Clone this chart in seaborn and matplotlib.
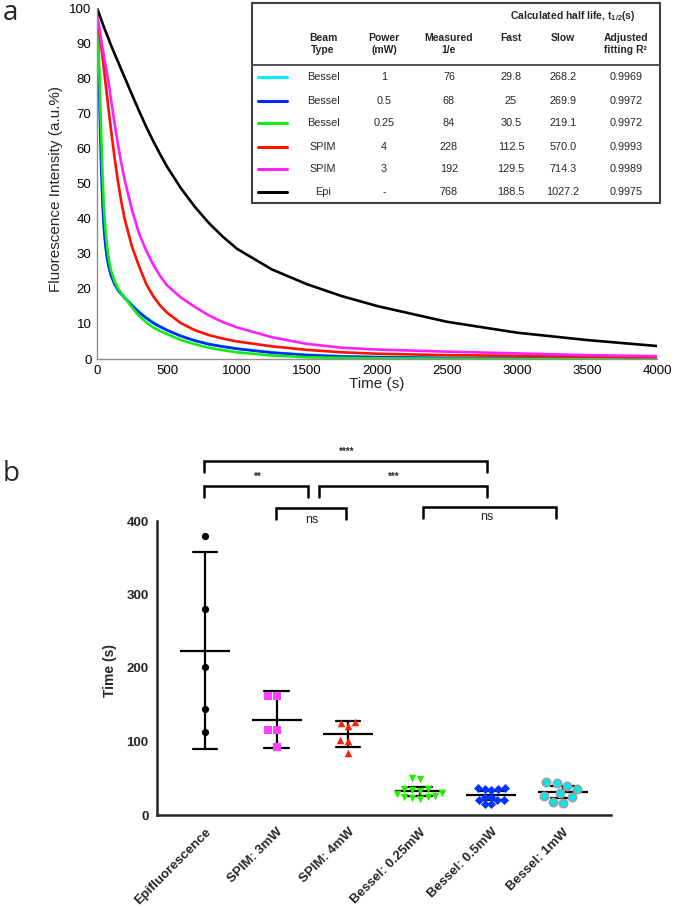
import numpy as np
import pandas as pd
import matplotlib
matplotlib.use("Agg")
import matplotlib.pyplot as plt
import seaborn as sns
from matplotlib.lines import Line2D
from matplotlib.patches import Rectangle

sns.set_style("white")
plt.rcParams["font.family"] = ["Liberation Sans", "DejaVu Sans"]
plt.rcParams["mathtext.fontset"] = "custom"
plt.rcParams["mathtext.rm"] = "Liberation Sans:bold"
plt.rcParams["mathtext.it"] = "Liberation Sans:bold"
plt.rcParams["mathtext.bf"] = "Liberation Sans:bold"

# ---- panel a: photobleaching curves ----
time_s = [0, 10, 20, 30, 40, 50, 60, 70, 80, 90, 100, 125, 150, 175, 200, 250, 300, 350,
          400, 450, 500, 600, 700, 800, 900, 1000, 1250, 1500, 1750, 2000, 2500, 3000,
          3500, 4000]
bessel_1mw = [98.5, 87, 71, 56, 45, 37.5, 33, 29.8, 27.4, 25.6, 24.1, 21.6, 19.9, 18.6,
              17.5, 15.4, 13.5, 11.9, 10.5, 9.3, 8.3, 6.6, 5.3, 4.3, 3.6, 3.0, 1.9, 1.2,
              0.8, 0.6, 0.3, 0.2, 0.1, 0.1]
bessel_05mw = [98, 86, 70, 55, 44, 37, 32.5, 29.3, 27, 25.2, 23.8, 21.3, 19.6, 18.4,
               17.3, 15.2, 13.3, 11.7, 10.3, 9.2, 8.2, 6.5, 5.2, 4.2, 3.5, 2.9, 1.8, 1.1,
               0.7, 0.5, 0.3, 0.2, 0.1, 0.1]
bessel_025mw = [98, 90, 78, 64, 52, 43, 37, 32.8, 29.6, 27.2, 25.3, 22.2, 20.1, 18.6,
                17.4, 14.7, 12.3, 10.5, 9.0, 8.0, 7.1, 5.4, 4.2, 3.2, 2.5, 1.9, 1.0, 0.5,
                0.3, 0.2, 0.1, 0.05, 0.02, 0.0]
spim_4mw = [98, 95, 92, 89, 85.8, 82.5, 79, 75.5, 72, 68.6, 65.3, 57.5, 50.5, 44.5,
            39.5, 32, 26.5, 21.5, 18, 15.3, 13.2, 10.2, 8.2, 6.8, 5.8, 5.0, 3.6, 2.6,
            1.9, 1.5, 1.1, 0.9, 0.7, 0.5]
spim_3mw = [98, 95.8, 93.5, 91, 88.5, 86, 84, 81.8, 79.5, 76.8, 74.0, 67.3, 61.0, 55.5,
            50.6, 42.5, 35.8, 31.0, 27.0, 23.7, 21.0, 17.5, 14.8, 12.4, 10.5, 9.0, 6.2,
            4.3, 3.2, 2.7, 2.1, 1.6, 1.1, 0.8]
epi = [100, 98.9, 97.8, 96.7, 95.6, 94.5, 93.5, 92.5, 91.5, 90.4, 89.4, 87.0, 84.7, 82.3,
       80.0, 75.3, 70.7, 66.3, 62.2, 58.4, 54.8, 48.6, 43.3, 38.7, 34.8, 31.4, 25.5, 21.3,
       17.9, 15.1, 10.6, 7.5, 5.4, 3.7]

curve_names = ["Bessel 1", "Bessel 0.5", "Bessel 0.25", "SPIM 4", "SPIM 3", "Epi"]
curve_values = [bessel_1mw, bessel_05mw, bessel_025mw, spim_4mw, spim_3mw, epi]
curve_colors = ["#00F0FF", "#0028FF", "#10EE10", "#FF1000", "#FF20FF", "#000000"]

# table inset
beam_type = ["Bessel", "Bessel", "Bessel", "SPIM", "SPIM", "Epi"]
power_mw = ["1", "0.5", "0.25", "4", "3", "-"]
measured_1e = ["76", "68", "84", "228", "192", "768"]
fast_half = ["29.8", "25", "30.5", "112.5", "129.5", "188.5"]
slow_half = ["268.2", "269.9", "219.1", "570.0", "714.3", "1027.2"]
adj_r2 = ["0.9969", "0.9972", "0.9972", "0.9993", "0.9989", "0.9975"]

# ---- panel b: times per condition ----
groups = ["Epifluorescence", "SPIM: 3mW", "SPIM: 4mW",
          "Bessel: 0.25mW", "Bessel: 0.5mW", "Bessel: 1mW"]
epi_times = [380, 280, 201, 144, 113]
spim3_times = [162, 162, 116, 116, 92]
spim4_times = [127, 121, 125, 102, 101, 85]
bessel025_times = [51, 49, 36, 35, 34, 33, 30, 28, 26, 25, 24, 23, 22]
bessel05_times = [37, 36, 34, 36, 37, 25, 25, 20, 20, 15, 15, 20]
bessel1_times = [45, 40, 36, 44, 30, 24, 17, 18, 26]
group_times = [epi_times, spim3_times, spim4_times, bessel025_times, bessel05_times, bessel1_times]

group_markers = ["o", "s", "^", "v", "D", "o"]
group_colors = ["#000000", "#FF40FF", "#FF2000", "#22EE00", "#0033FF", "#00E8F0"]
group_sizes = [5.2, 5.8, 5.4, 5.4, 4.6, 6.0]

# significance brackets: (x1, x2, top, leg end, label, label x, label y, fontsize, weight)
brackets = [
    (-0.007, 3.94, 481.7, 466.3, "****", 1.975, 494, 7, "bold"),
    (-0.007, 1.441, 447.3, 432.4, "**", 0.736, 460, 7, "bold"),
    (1.591, 3.94, 447.3, 432.4, "***", 2.63, 460, 7, "bold"),
    (0.992, 1.965, 417.8, 402.4, "ns", 1.489, 402, 9, "normal"),
    (3.04, 4.90, 419.2, 404.2, "ns", 3.93, 405, 9, "normal"),
]

T975 = {4: 2.776, 5: 2.571, 6: 2.447, 7: 2.365, 8: 2.306, 9: 2.262,
        10: 2.228, 11: 2.201, 12: 2.179, 13: 2.160}


def ci95(v):
    v = np.asarray(v, float)
    m = v.mean()
    h = T975[len(v) - 1] * v.std(ddof=1) / np.sqrt(len(v))
    return m - h, m + h


W, H = 675, 908


def fx(px):
    return px / W


def fy(py):
    return 1 - py / H


fig = plt.figure(figsize=(W / 100, H / 100), dpi=100)
ax_a = fig.add_axes([fx(97), fy(359), (657 - 97) / W, (359 - 8) / H])
ax_b = fig.add_axes([fx(157), fy(815), (611 - 157) / W, (815 - 521) / H])

# ---------------- panel a ----------------
df_a = pd.DataFrame({
    "time": np.tile(time_s, len(curve_names)),
    "intensity": np.concatenate(curve_values),
    "beam": np.repeat(curve_names, len(time_s)),
})
sns.lineplot(data=df_a, x="time", y="intensity", hue="beam", hue_order=curve_names,
             palette=dict(zip(curve_names, curve_colors)), linewidth=1.9,
             errorbar=None, legend=False, ax=ax_a)
ax_a.set_xlim(0, 4000)
ax_a.set_ylim(0, 100)
ax_a.set_xticks(range(0, 4001, 500))
ax_a.set_yticks(range(0, 101, 10))
sns.despine(ax=ax_a)
for s in ["left", "bottom"]:
    ax_a.spines[s].set_color("#909090")
    ax_a.spines[s].set_linewidth(1.0)
ax_a.tick_params(axis="both", direction="in", length=3, color="#909090",
                 labelsize=9.5, labelcolor="black")
ax_a.tick_params(axis="x", pad=4)
ax_a.tick_params(axis="y", pad=4)
ax_a.set_xlabel("Time (s)", fontsize=11)
ax_a.set_ylabel("Fluorescence Intensity (a.u.%)", fontsize=11)
ax_a.xaxis.set_label_coords(0.5, -0.05)
ax_a.yaxis.set_label_coords(-0.06, 0.484)

# table inset
fig.add_artist(Rectangle((fx(252), fy(203)), (660 - 252) / W, (203 - 3) / H,
                         transform=fig.transFigure, facecolor="white",
                         edgecolor="#404040", linewidth=1.5, zorder=5))
fig.add_artist(Line2D([fx(252), fx(660)], [fy(65), fy(65)], color="#505050",
                      linewidth=1.4, zorder=6))
hdr = dict(ha="center", va="center", fontsize=7.5, fontweight="bold",
           linespacing=1.15, zorder=7)
fig.text(fx(573), fy(16), r"Calculated half life, t$_{1/2}$(s)", **hdr)
fig.text(fx(323), fy(44), "Beam\nType", **hdr)
fig.text(fx(384), fy(44), "Power\n(mW)", **hdr)
fig.text(fx(449), fy(44), "Measured\n1/e", **hdr)
fig.text(fx(511), fy(38), "Fast", **hdr)
fig.text(fx(563), fy(38), "Slow", **hdr)
fig.text(fx(626), fy(44), "Adjusted\nfitting R\u00b2", **hdr)

row_y = [77, 101, 123, 147, 169, 192]
cell = dict(ha="center", va="center", fontsize=7.8, zorder=7)
for i, y in enumerate(row_y):
    fig.add_artist(Line2D([fx(258), fx(287)], [fy(y), fy(y)], color=curve_colors[i],
                          linewidth=2.2, zorder=7))
    fig.text(fx(323), fy(y), beam_type[i], **cell)
    fig.text(fx(384), fy(y), power_mw[i], **cell)
    fig.text(fx(449), fy(y), measured_1e[i], **cell)
    fig.text(fx(511), fy(y), fast_half[i], **cell)
    fig.text(fx(563), fy(y), slow_half[i], **cell)
    fig.text(fx(626), fy(y), adj_r2[i], **cell)

# ---------------- panel b ----------------
df_b = pd.DataFrame({
    "group": np.repeat(groups, [len(v) for v in group_times]),
    "time": np.concatenate(group_times),
})
for i, g in enumerate(groups):
    edge = "#A0A0A0" if i == 5 else group_colors[i]
    lw = 1.2 if i == 5 else 0
    sns.swarmplot(data=df_b[df_b["group"] == g], x="group", y="time", order=groups,
                  marker=group_markers[i], color=group_colors[i], edgecolor=edge,
                  linewidth=lw, size=group_sizes[i], ax=ax_b)

sns.pointplot(data=df_b, x="group", y="time", order=groups, estimator="mean",
              errorbar=ci95, color="black", linestyle="none", marker="_",
              markersize=36, markeredgewidth=1.6, capsize=0.34,
              err_kws={"linewidth": 1.6}, ax=ax_b)

for x1, x2, top, leg, lab, lx, ly, fs, fw in brackets:
    ax_b.plot([x1, x1, x2, x2], [leg, top, top, leg], color="black",
              linewidth=1.8, clip_on=False, solid_joinstyle="miter")
    ax_b.text(lx, ly, lab, ha="center", va="center", fontsize=fs,
              fontweight=fw, clip_on=False)

ax_b.set_xlim(-0.67, 5.67)
ax_b.set_ylim(0, 400)
ax_b.set_yticks(range(0, 401, 100))
sns.despine(ax=ax_b)
for s in ["left", "bottom"]:
    ax_b.spines[s].set_linewidth(1.8)
ax_b.tick_params(axis="both", direction="out", length=5, width=1.8, labelsize=9.5,
                 color="black")
ax_b.tick_params(axis="x", pad=3)
ax_b.tick_params(axis="y", pad=1)
plt.setp(ax_b.get_xticklabels(), rotation=45, ha="right", rotation_mode="anchor",
         fontweight="bold")
plt.setp(ax_b.get_yticklabels(), fontweight="bold")
ax_b.set_xlabel("")
ax_b.set_ylabel("Time (s)", fontsize=10, fontweight="bold")
ax_b.yaxis.set_label_coords(-0.088, 0.49)

# panel letters
fig.text(fx(3), fy(20), "a", fontsize=20, family=["Open Sans", "DejaVu Sans"], va="baseline")
fig.text(fx(3), fy(481), "b", fontsize=20, family=["Open Sans", "DejaVu Sans"], va="baseline")

fig.savefig("out.png", dpi=100)
